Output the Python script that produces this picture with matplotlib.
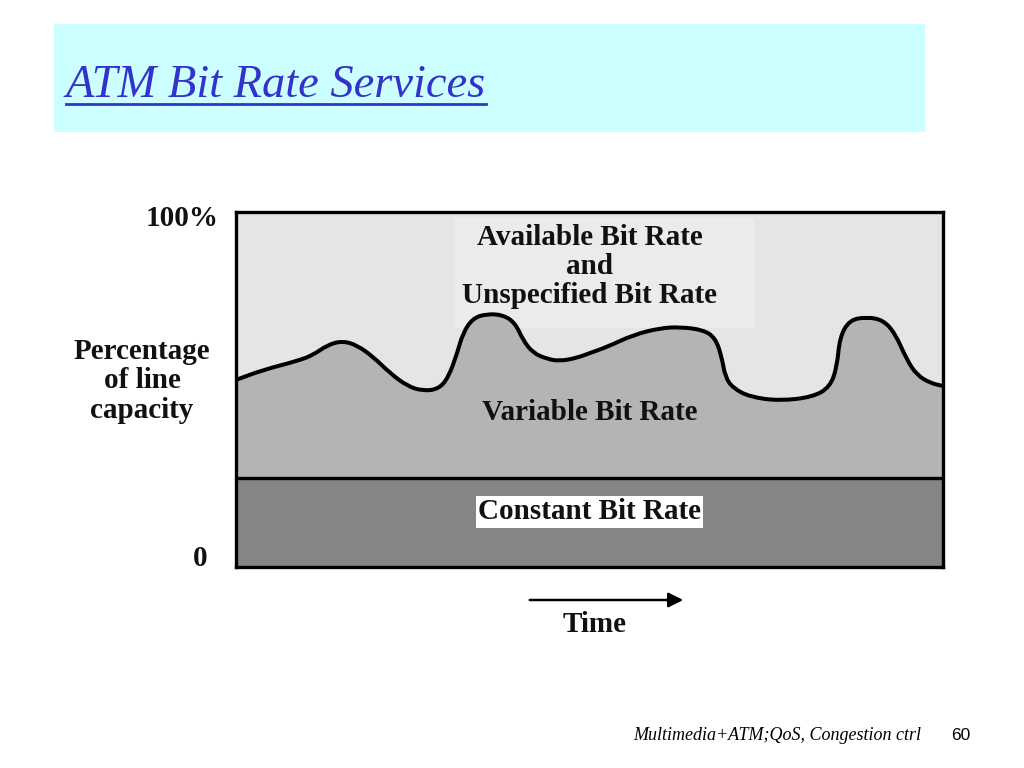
import matplotlib
matplotlib.use("Agg")
import matplotlib.pyplot as plt
from matplotlib.patches import Rectangle, FancyArrowPatch, PathPatch
from matplotlib.path import Path
from matplotlib.lines import Line2D

# ---- data ----
time_pts = [0, 3.8, 8.6, 10.9, 12.9, 15.0, 17.1, 19.4, 21.8, 24.2, 26.4, 28.6,
            30.0, 31.3, 32.1, 33.5, 35.5, 37.8, 39.5, 40.6, 42.0, 44.0, 45.8,
            48.2, 50.1, 52.5, 56.2, 60.0, 62.8, 66.1, 67.8, 68.7, 69.2, 70.3,
            72.7, 76.9, 81.6, 84.0, 85.0, 85.4, 86.8, 89.2, 91.5, 93.2, 94.9,
            96.3, 98.2, 100]
vbr_top = [52.7, 55.5, 58.0, 59.7, 62.5, 63.7, 62.5, 59.2, 54.6, 51.0, 49.6, 50.1,
           53.2, 60.3, 65.9, 70.1, 71.3, 71.0, 68.7, 63.9, 60.3, 58.6, 58.0,
           58.9, 60.3, 62.0, 65.4, 67.3, 67.6, 66.8, 64.5, 59.2, 53.5, 50.4,
           47.9, 46.8, 47.9, 50.7, 56.3, 64.8, 69.6, 70.4, 69.6, 65.9, 58.3,
           54.1, 51.8, 51.0]
cbr_level = 25
y_max = 100

title_text = "ATM Bit Rate Services"
abr_label = "Available Bit Rate\nand\nUnspecified Bit Rate"
vbr_label = "Variable Bit Rate"
cbr_label = "Constant Bit Rate"
ylabel_text = "Percentage\nof line\ncapacity"
ytick_top = "100%"
ytick_bottom = "0"
xlabel_text = "Time"
footer_text = "Multimedia+ATM;QoS, Congestion ctrl"
page_num = "60"

W, H = 1024, 768
fig = plt.figure(figsize=(W / 100, H / 100), dpi=100)
fig.patch.set_facecolor("white")

def fx(px):
    return px / W

def fy(py):
    return 1 - py / H

# title box
fig.patches.append(Rectangle((fx(54), fy(132)), fx(925) - fx(54), fy(24) - fy(132),
                             transform=fig.transFigure, facecolor="#ccffff",
                             edgecolor="none", zorder=0))
title = fig.text(fx(66), fy(86), title_text, fontsize=33.5, style="italic",
                 family=["Liberation Serif", "DejaVu Serif"], color="#3333cc",
                 ha="left", va="center")

# main axes
ax = fig.add_axes([fx(236), fy(567), fx(943) - fx(236), fy(212) - fy(567)])
ax.set_xlim(0, 100)
ax.set_ylim(0, y_max)
ax.set_facecolor("#e5e5e5")
# faint lighter panel behind the ABR/UBR label
ax.add_patch(Rectangle((31.0, 67.3), 42.4, 31.0, facecolor="#ebebeb",
                       edgecolor="none", zorder=0.5))
ax.fill_between([0, 100], 0, cbr_level, color="#858585", lw=0, zorder=1)

# smooth path through the read points (quadratic segments via midpoints)
pts = list(zip(time_pts, vbr_top))
verts = [pts[0]]
codes = [Path.MOVETO]
mid = lambda a, b: ((a[0] + b[0]) / 2, (a[1] + b[1]) / 2)
verts.append(mid(pts[0], pts[1]))
codes.append(Path.LINETO)
for i in range(1, len(pts) - 1):
    verts += [pts[i], mid(pts[i], pts[i + 1])]
    codes += [Path.CURVE3, Path.CURVE3]
verts.append(pts[-1])
codes.append(Path.LINETO)
curve = Path(verts, codes)

fill_verts = verts + [(time_pts[-1], cbr_level), (time_pts[0], cbr_level), verts[0]]
fill_codes = codes + [Path.LINETO, Path.LINETO, Path.CLOSEPOLY]
ax.add_patch(PathPatch(Path(fill_verts, fill_codes), facecolor="#b4b4b4",
                       edgecolor="none", zorder=1))
ax.add_patch(PathPatch(curve, facecolor="none", edgecolor="black", lw=2.9,
                       joinstyle="round", capstyle="round", zorder=3))
ax.axhline(cbr_level, color="black", lw=2.4, zorder=3)
for s in ax.spines.values():
    s.set_linewidth(2.4)
    s.set_color("black")
    s.set_zorder(4)
ax.set_xticks([])
ax.set_yticks([])

bold = dict(family=["Liberation Serif", "DejaVu Serif"], weight="bold",
            color="#111111")
FS = 21
LS = 1.1

ax.text(50, 84.7, abr_label, ha="center", va="center", fontsize=FS,
        linespacing=LS, zorder=5, **bold)
ax.text(50, 43.4, vbr_label, ha="center", va="center", fontsize=FS, zorder=5,
        **bold)
ax.text(50, 15.5, cbr_label, ha="center", va="center", fontsize=FS, zorder=5,
        bbox=dict(facecolor="white", edgecolor="none", pad=1.5), **bold)

# y-axis annotations
fig.text(fx(219), fy(218), ytick_top, ha="right", va="center", fontsize=FS, **bold)
fig.text(fx(207), fy(558), ytick_bottom, ha="right", va="center", fontsize=FS, **bold)
fig.text(fx(142), fy(381), ylabel_text, ha="center", va="center", fontsize=FS,
         linespacing=LS, **bold)

# time arrow
arrow = FancyArrowPatch((fx(527), fy(600)), (fx(686), fy(600)),
                        transform=fig.transFigure, arrowstyle="-|>",
                        mutation_scale=22, lw=1.8, color="black")
fig.patches.append(arrow)
fig.text(fx(595), fy(625), xlabel_text, ha="center", va="center", fontsize=FS,
         **bold)

# footer
fig.text(fx(921), fy(736), footer_text, ha="right", va="center", fontsize=13,
         style="italic", family=["Liberation Serif", "DejaVu Serif"], color="black")
fig.text(fx(961), fy(736), page_num, ha="center", va="center", fontsize=12.5,
         family=["Liberation Sans", "DejaVu Sans"], color="black")

# underline title
fig.canvas.draw()
bb = title.get_window_extent().transformed(fig.transFigure.inverted())
fig.lines.append(Line2D([bb.x0, bb.x1], [fy(104), fy(104)], transform=fig.transFigure,
                        color="#3333cc", lw=2.0))

fig.savefig("out.png", dpi=100, facecolor="white")
